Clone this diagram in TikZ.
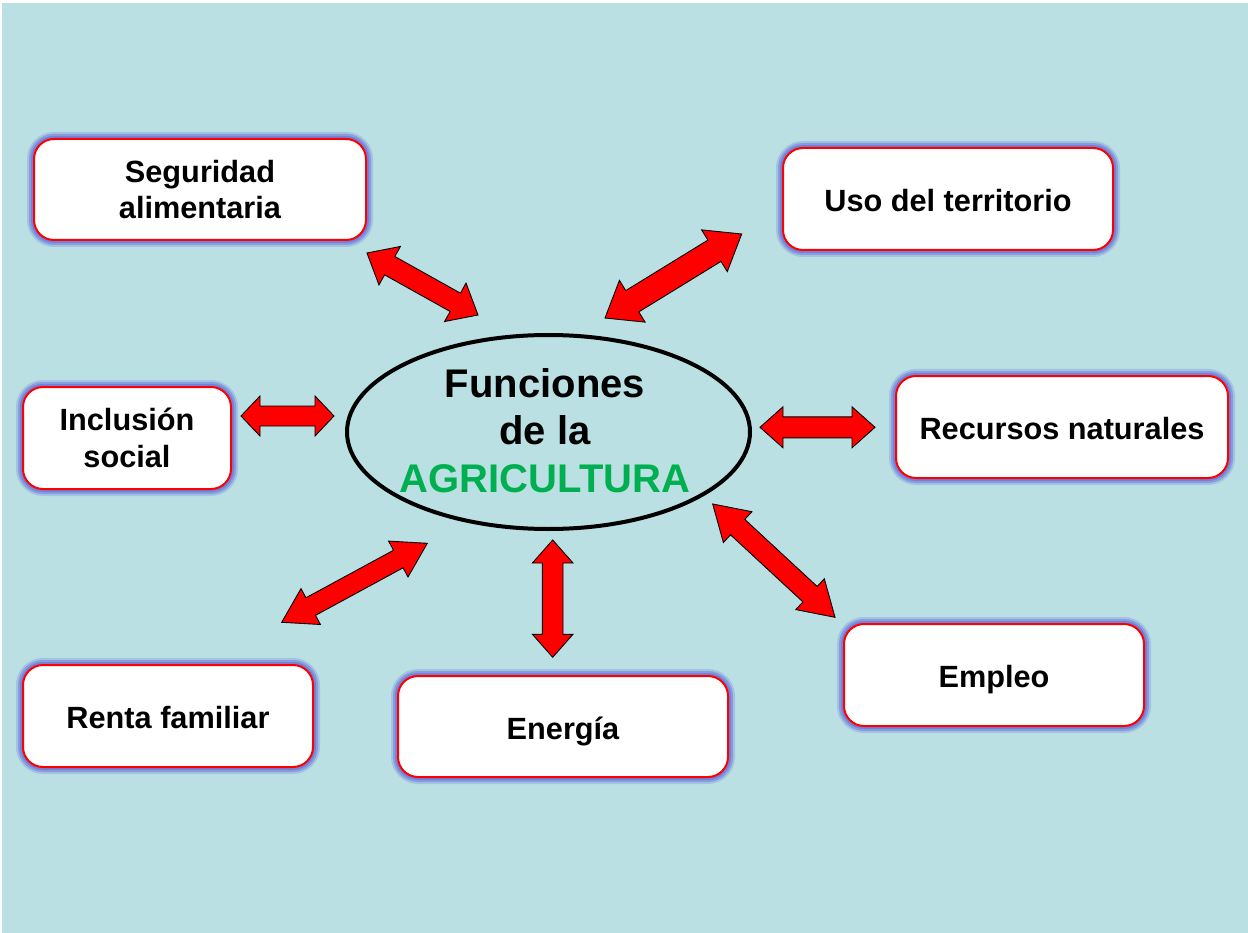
\documentclass[tikz,border=0pt]{standalone}
\usepackage{fontspec}
\setmainfont{Liberation Sans}
\usetikzlibrary{calc,shapes.geometric}
\definecolor{bg}{RGB}{186,224,227}
\definecolor{glow}{RGB}{100,112,218}
\definecolor{agri}{RGB}{0,176,80}
\newcommand\dblarr[5]{%
  \draw[arrowshape] (#1) -- ($(#1)!#3!(#2)!#4!90:(#2)$) -- ($(#1)!#3!(#2)!#5!90:(#2)$)
   -- ($(#2)!#3!(#1)!#5!-90:(#1)$) -- ($(#2)!#3!(#1)!#4!-90:(#1)$) -- (#2)
   -- ($(#2)!#3!(#1)!#4!90:(#1)$) -- ($(#2)!#3!(#1)!#5!90:(#1)$)
   -- ($(#1)!#3!(#2)!#5!-90:(#2)$) -- ($(#1)!#3!(#2)!#4!-90:(#2)$) -- cycle;}
\tikzset{
  box/.style={rectangle, rounded corners=20pt, fill=white, draw=red, line width=2pt,
    inner sep=0pt, align=center, text=black,
    font=\bfseries\fontsize{30.7}{36.5}\selectfont,
    preaction={draw=glow, draw opacity=0.25, line width=14pt},
    preaction={draw=glow, draw opacity=0.45, line width=10pt},
    preaction={draw=glow, draw opacity=0.6, line width=6pt}},
  onebox/.style={box, text height=25pt, text depth=0pt},
  arrowshape/.style={fill=red, draw=black, line width=0.9pt, line join=miter},
}
\begin{document}
\begin{tikzpicture}[x=1pt,y=-1pt]
\useasboundingbox (0,0) rectangle (1248,933);
\fill[bg] (2,3) rectangle (1248,933);

% boxes
\node[box, minimum width=332pt, minimum height=101pt] (seg) at (200,189.5) {Seguridad\\alimentaria};
\node[onebox, minimum width=330pt, minimum height=102pt] (uso) at (948,199) {Uso del territorio};
\node[box, minimum width=208pt, minimum height=102pt] (inc) at (127,438) {Inclusión\\social};
\node[onebox, minimum width=332pt, minimum height=102pt] (rec) at (1062,427) {Recursos naturales};
\node[onebox, minimum width=290pt, minimum height=102pt] (ren) at (168,716) {Renta familiar};
\node[onebox, minimum width=330pt, minimum height=101pt] (ene) at (563,726.5) {Energía};
\node[onebox, minimum width=300pt, minimum height=102pt] (emp) at (994,675) {Empleo};

% central ellipse
\node[ellipse, draw=black, line width=4pt, minimum width=403pt, minimum height=194pt, inner sep=0pt] (ell) at (548.5,432) {};
\node[align=center, inner sep=0pt, font=\bfseries\fontsize{40}{47.5}\selectfont] (ftxt) at (545,430.5)
  {Funciones\\de la\\\textcolor{agri}{AGRICULTURA}};

% arrow end points
\coordinate (a1s) at (367,253);   \coordinate (a1e) at (478,315);
\coordinate (a2s) at (605,318);   \coordinate (a2e) at (741.7,234);
\coordinate (a3s) at (241,416);   \coordinate (a3e) at (334,416);
\coordinate (a4s) at (760,427.3); \coordinate (a4e) at (875,427.3);
\coordinate (a5s) at (712.7,504); \coordinate (a5e) at (835,617.3);
\coordinate (a6s) at (552.7,540); \coordinate (a6e) at (552.7,657.3);
\coordinate (a7s) at (281.7,622.3); \coordinate (a7e) at (427.3,543.3);

\dblarr{a1s}{a1e}{26pt}{22pt}{10.5pt}
\dblarr{a2s}{a2e}{32pt}{24.5pt}{12.5pt}
\dblarr{a3s}{a3e}{19pt}{20pt}{10pt}
\dblarr{a4s}{a4e}{23pt}{20.5pt}{10.5pt}
\dblarr{a5s}{a5e}{34pt}{21pt}{10.5pt}
\dblarr{a6s}{a6e}{23pt}{20.3pt}{10.3pt}
\dblarr{a7s}{a7e}{33pt}{20.4pt}{10pt}
\end{tikzpicture}
\end{document}
